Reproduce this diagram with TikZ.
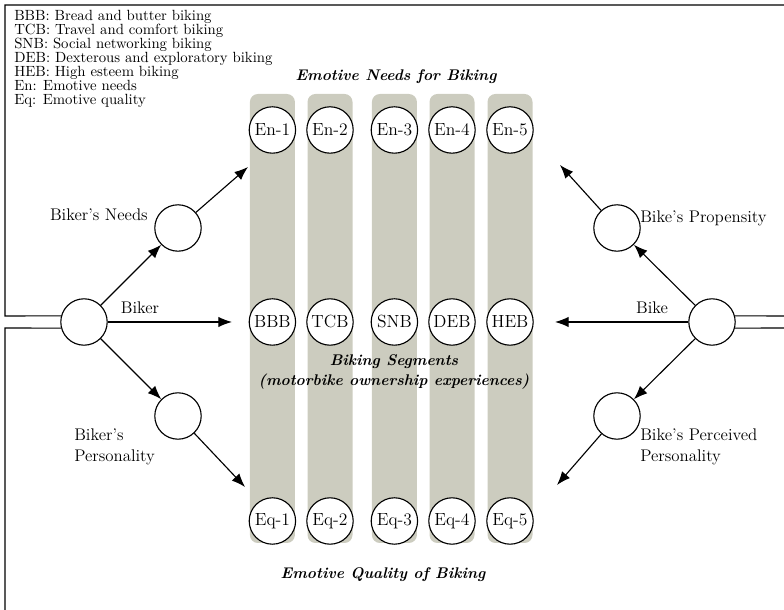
\documentclass[tikz,border=0pt]{standalone}
\usepackage{tikz}
\usetikzlibrary{arrows.meta}
\definecolor{bandgray}{RGB}{204,204,191}

\begin{document}
\begin{tikzpicture}[
	bubble/.style={draw, circle, fill=white, line width=0.8pt, minimum size=1.16cm, inner sep=0pt, font=\fontsize{12.5}{13}\selectfont},
	band/.style={fill=bandgray, rounded corners=0.2cm},
	arr/.style={line width=0.8pt, -{Latex[length=3.4mm,width=2.6mm]}},
	side/.style={font=\fontsize{12}{14.5}\selectfont, align=left, inner sep=0pt},
	heading/.style={font=\fontsize{11}{14}\selectfont\bfseries\itshape, align=center, inner sep=0pt}
	]
	\useasboundingbox (0, 0) rectangle (19.6, 15.25);
	
	%%%%% columns of segments %%%%%
	\foreach \x/\seg/\i in {6.81/BBB/1, 8.25/TCB/2, 9.86/SNB/3, 11.3/DEB/4, 12.75/HEB/5} {
		\fill[band] (\x-0.5625, 1.675) rectangle (\x+0.5625, 12.9);
		\node[bubble] (en\i) at (\x, 12.0) {En-\i};
		\node[bubble] (seg\i) at (\x, 7.2) {\seg};
		\node[bubble] (eq\i) at (\x, 2.225) {Eq-\i};
	}
	
	\node[heading] (needstitle) at (9.9, 13.325) {Emotive Needs for Biking};
	\node[heading] (segtitle) at (9.85, 5.95) {Biking Segments\\(motorbike ownership experiences)};
	\node[heading] (qualtitle) at (9.575, 0.875) {Emotive Quality of Biking};
	
	%%%%% biker side %%%%%
	\node[bubble] (biker) at (2.1, 7.2) {};
	\node[bubble] (bneeds) at (4.45, 9.55) {};
	\node[bubble] (bpers) at (4.45, 4.85) {};
	\node[side, anchor=east] (bneedslbl) at (3.7, 9.875) {Biker's Needs};
	\node[side] (bikerlbl) at (3.5, 7.55) {Biker};
	\node[side, anchor=west] (bperslbl) at (1.85, 4.075) {Biker's\\Personality};
	
	\coordinate (entipl) at (6.2, 11.075);
	\coordinate (segtipl) at (5.8, 7.2);
	\coordinate (eqtipl) at (6.125, 3.075);
	\draw[arr] (biker) -- (bneeds);
	\draw[arr] (bneeds) -- (entipl);
	\draw[arr] (biker) -- (segtipl);
	\draw[arr] (biker) -- (bpers);
	\draw[arr] (bpers) -- (eqtipl);
	
	%%%%% bike side %%%%%
	\node[bubble] (bike) at (17.8, 7.2) {};
	\node[bubble] (bprop) at (15.425, 9.55) {};
	\node[bubble] (bperc) at (15.425, 4.85) {};
	\node[side, anchor=west] (bproplbl) at (16.0, 9.8) {Bike's Propensity};
	\node[side] (bikelbl) at (16.3, 7.55) {Bike};
	\node[side, anchor=west] (bperclbl) at (16.0, 4.075) {Bike's Perceived\\Personality};
	
	\coordinate (entipr) at (14.0, 11.125);
	\coordinate (segtipr) at (13.875, 7.2);
	\coordinate (eqtipr) at (13.925, 3.125);
	\draw[arr] (bike) -- (bprop);
	\draw[arr] (bprop) -- (entipr);
	\draw[arr] (bike) -- (segtipr);
	\draw[arr] (bike) -- (bperc);
	\draw[arr] (bperc) -- (eqtipr);
	
	%%%%% outer loop %%%%%
	\draw[line width=0.8pt] (biker.165) -- (0.125, 7.35) -- (0.125, 15.125) -- (19.6, 15.125);
	\draw[line width=0.8pt] (biker.195) -- (0.125, 7.05) -- (0.125, 0);
	\draw[line width=0.8pt] (bike.15) -- (19.6, 7.35);
	\draw[line width=0.8pt] (bike.-15) -- (19.6, 7.05);
	
	%%%%% legend %%%%%
	\node[anchor=north west, align=left, inner sep=0pt, font=\fontsize{10.5}{9.96}\selectfont] (legend) at (0.35, 15.0) {BBB: Bread and butter biking\\
		TCB: Travel and comfort biking\\
		SNB: Social networking biking\\
		DEB: Dexterous and exploratory biking\\
		HEB: High esteem biking\\
		En: Emotive needs\\
		Eq: Emotive quality};
\end{tikzpicture}
\end{document}
